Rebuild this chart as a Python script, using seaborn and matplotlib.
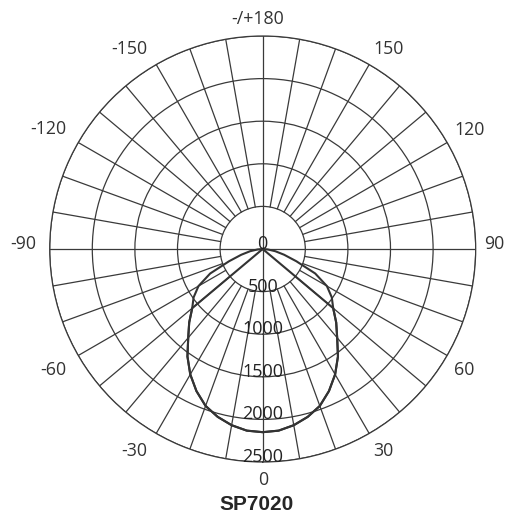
import numpy as np
import pandas as pd
import matplotlib
matplotlib.use("Agg")
import matplotlib.pyplot as plt
import seaborn as sns

# ---- data ----
angles_a = [-90, -85, -80, -75, -70, -65, -60, -55, -50, -45, -40, -35, -30, -25, -20, -15, -10, -5,
            0, 5, 10, 15, 20, 25, 30, 35, 40, 45, 50, 55, 60, 65, 70, 75, 80, 85, 90]
values_a = [0, 60, 150, 260, 420, 680, 870, 990, 1080, 1220, 1360, 1540, 1700, 1840, 1960, 2040, 2100, 2140,
            2150, 2140, 2100, 2040, 1960, 1840, 1700, 1540, 1360, 1220, 1080, 990, 870, 680, 420, 260, 150, 60, 0]
angles_b = [-55, -50, -45, -40, -35, -30, -25, -20, -15, -10, -5, 0, 5, 10, 15, 20, 25, 30, 35, 40, 45, 50, 55]
values_b = [0, 1080, 1220, 1360, 1540, 1700, 1840, 1960, 2040, 2100, 2140, 2150, 2140, 2100, 2040, 1960,
            1840, 1700, 1540, 1360, 1220, 1080, 0]
ring_values = [500, 1000, 1500, 2000, 2500]
ring_labels = ["0", "500", "1000", "1500", "2000", "2500"]
label_angles = [0, 30, 60, 90, 120, 150, 180, 210, 240, 270, 300, 330]
angle_labels = ["0", "30", "60", "90", "120", "150", "-/+180", "-150", "-120", "-90", "-60", "-30"]
spoke_angles = list(range(0, 360, 10))
title = "SP7020"

df = pd.concat([
    pd.DataFrame({"theta": np.deg2rad(angles_a), "cd": values_a, "plane": "A"}),
    pd.DataFrame({"theta": np.deg2rad(angles_b), "cd": values_b, "plane": "B"}),
])

sns.set_style("white")
plt.rcParams["font.family"] = ["Open Sans", "DejaVu Sans"]

W, H = 507, 516
fig = plt.figure(figsize=(W / 100, H / 100), dpi=100)
cx, cy, R = 262.7, 249.0, 213.0
ax = fig.add_axes([(cx - R) / W, (H - cy - R) / H, 2 * R / W, 2 * R / H], projection="polar")
ax.set_theta_zero_location("S")
ax.set_theta_direction(1)
rmax = 2500
ax.set_ylim(0, rmax)

grid_col = "#3a3a3a"
ax.set_yticks(ring_values)
ax.set_yticklabels([])
ax.yaxis.grid(True, color=grid_col, linewidth=0.9)
ax.xaxis.grid(False)
ax.set_xticks([])
ax.spines["polar"].set_color(grid_col)
ax.spines["polar"].set_linewidth(0.9)

# spokes
for a in spoke_angles:
    r0 = 0 if a % 90 == 0 else 500
    ax.plot([np.deg2rad(a)] * 2, [r0, rmax], color=grid_col, linewidth=0.9, zorder=1)

# curves
sns.lineplot(data=df, x="theta", y="cd", hue="plane", palette=["#333333", "#333333"],
             sort=False, estimator=None, legend=False, linewidth=1.5, ax=ax, zorder=3)
ax.set_xlabel("")
ax.set_ylabel("")

# radial labels
for v, lab in zip([0] + ring_values, ring_labels):
    ax.text(0, v, lab, ha="center", va="baseline", fontsize=13, color="#222222", zorder=4)

# angle labels anchored just outside the outer ring
D, hd = 221.0, 12.7
for a, lab in zip(label_angles, angle_labels):
    th = np.deg2rad(a)
    s, c = np.sin(th), np.cos(th)
    px, py = cx + D * s, cy + D * c
    if s > 0.01:
        ha = "left"
    elif s < -0.01:
        ha, px = "right", px - 5
    else:
        ha = "center"
        if lab.startswith("-"):
            px -= 5
    if c > 0.01:
        base = py + 2.5 + hd
    elif c < -0.01:
        base = py - 4
    else:
        base = py
    fig.text(px / W, 1 - base / H, lab, ha=ha, va="baseline", fontsize=12.8, color="#333333")

fig.text(256.7 / W, 1 - 505 / H, title, ha="center", va="center", fontsize=15,
         fontweight="bold", family=["Liberation Sans", "DejaVu Sans"])

fig.savefig("out.png", dpi=100)
